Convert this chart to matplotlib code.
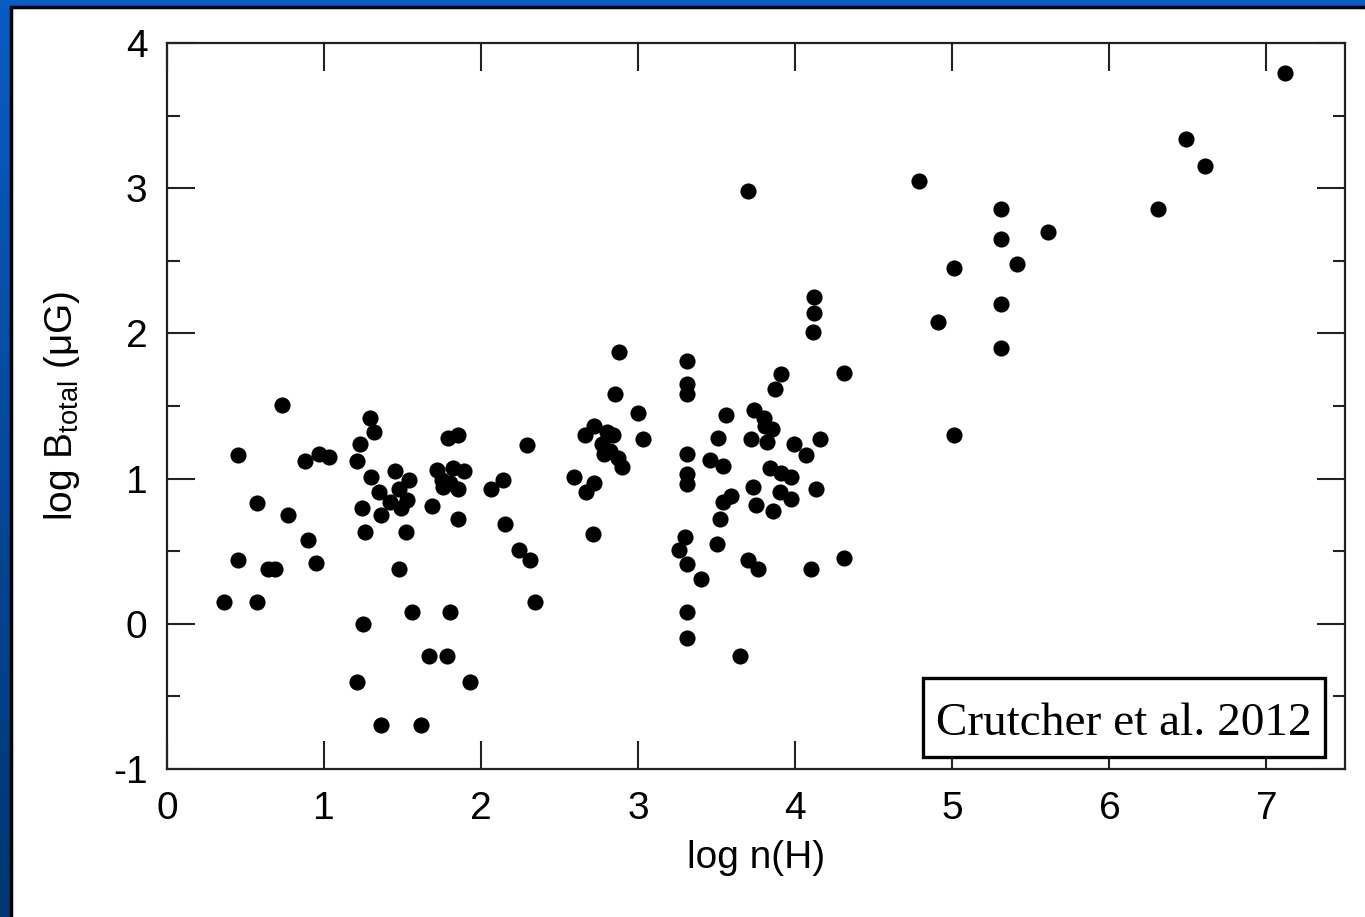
"""
log B_total vs log n(H) -- Zeeman field strengths, after Crutcher et al. 2012
"""

import numpy as np
import matplotlib
matplotlib.use("Agg")
import matplotlib.pyplot as plt
from matplotlib.patches import Rectangle

# values
log_nH = [
    0.36, 0.57, 0.45, 0.64, 0.69, 0.95, 0.57, 0.77, 0.90, 0.45, 0.73, 0.88, 0.97, 1.03,
    1.21, 1.23, 1.29, 1.32,
    1.30, 1.45, 1.54, 1.48, 1.35, 1.53, 1.42, 1.49, 1.24, 1.36, 1.26, 1.52, 1.48,
    1.25, 1.56, 1.67, 1.78, 1.21, 1.36, 1.62, 1.93,
    1.79, 1.85, 1.72, 1.82, 1.89, 1.75, 1.80, 1.85, 1.76, 1.69, 1.85, 1.80,
    2.06, 2.14, 2.15, 2.24, 2.31, 2.34, 2.29,
    2.59, 2.67, 2.71, 2.72, 2.66, 2.72, 2.80, 2.84, 2.77, 2.82, 2.87, 2.90, 2.78,
    2.85, 2.88, 3.00, 3.03,
    3.31, 3.31, 3.31, 3.31, 3.31, 3.31, 3.30, 3.26, 3.31, 3.40, 3.31, 3.31,
    3.51, 3.46, 3.54, 3.56, 3.52, 3.50, 3.54, 3.59,
    3.65, 3.70, 3.76, 3.70,
    3.73, 3.75, 3.86, 3.90, 3.97, 3.84, 3.91, 3.97,
    3.74, 3.80, 3.85, 3.81, 3.72, 3.82, 3.99, 4.07, 4.16, 3.87, 3.91,
    4.13, 4.10, 4.31, 4.31, 4.12, 4.12, 4.11,
    4.79, 4.91, 5.01, 5.01, 5.31, 5.31, 5.31, 5.31, 5.41, 5.61,
    6.31, 6.49, 6.61, 7.12,
]
log_B = [
    0.15, 0.15, 0.44, 0.38, 0.38, 0.42, 0.83, 0.75, 0.58, 1.16, 1.51, 1.12, 1.17, 1.15,
    1.12, 1.24, 1.42, 1.32,
    1.01, 1.05, 0.99, 0.93, 0.91, 0.85, 0.84, 0.80, 0.80, 0.75, 0.63, 0.63, 0.38,
    0.00, 0.08, -0.22, -0.22, -0.40, -0.70, -0.70, -0.40,
    1.28, 1.30, 1.06, 1.07, 1.05, 0.99, 0.97, 0.93, 0.94, 0.81, 0.72, 0.08,
    0.93, 0.99, 0.69, 0.51, 0.44, 0.15, 1.23,
    1.01, 0.91, 0.62, 0.97, 1.30, 1.36, 1.32, 1.30, 1.24, 1.19, 1.14, 1.08, 1.17,
    1.58, 1.87, 1.45, 1.27,
    1.81, 1.65, 1.58, 1.17, 1.03, 0.96, 0.60, 0.51, 0.41, 0.31, 0.08, -0.10,
    1.28, 1.13, 1.09, 1.44, 0.72, 0.55, 0.84, 0.88,
    -0.22, 0.44, 0.38, 2.98,
    0.94, 0.82, 0.78, 0.91, 0.86, 1.07, 1.04, 1.01,
    1.47, 1.42, 1.34, 1.36, 1.27, 1.25, 1.24, 1.16, 1.27, 1.62, 1.72,
    0.93, 0.38, 0.45, 1.73, 2.25, 2.14, 2.01,
    3.05, 2.08, 2.45, 1.30, 2.86, 2.65, 2.20, 1.90, 2.48, 2.70,
    2.86, 3.34, 3.15, 3.79,
]

x_ticks = [0, 1, 2, 3, 4, 5, 6, 7]
y_ticks = [-1, 0, 1, 2, 3, 4]
citation = "Crutcher et al. 2012"

W, H = 1365, 917
fig = plt.figure(figsize=(W / 100, H / 100), dpi=100)

# slide background: blue gradient with a white panel on top
bg = fig.add_axes([0, 0, 1, 1])
grad = np.linspace(0, 1, 256).reshape(-1, 1)
bg.imshow(grad, aspect="auto", extent=[0, 1, 0, 1],
          cmap=matplotlib.colors.LinearSegmentedColormap.from_list(
              "slide", ["#0a5cc2", "#003672"]))
bg.add_patch(Rectangle((11 / W, -0.05), 1.1, 1.05 - 7 / H, facecolor="white",
                       edgecolor="black", linewidth=2.5))
bg.set_xlim(0, 1)
bg.set_ylim(0, 1)
bg.axis("off")

ax = fig.add_axes([167 / W, 1 - 769 / H, (1345 - 167) / W, (769 - 43) / H])
ax.set_facecolor("none")
ax.scatter(log_nH, log_B, s=135, color="black", linewidths=0, zorder=3)

ax.set_xlim(0, 7.5)
ax.set_ylim(-1, 4)
ax.set_xticks(x_ticks)
ax.set_yticks(y_ticks)
ax.set_yticks(np.arange(-0.5, 4, 1.0), minor=True)

tick_font = {"family": "Liberation Sans", "size": 28}
ax.set_xticklabels([str(t) for t in x_ticks], fontdict=tick_font)
ax.set_yticklabels([str(t) for t in y_ticks], fontdict=tick_font)
ax.tick_params(which="both", direction="in", top=True, right=True,
               width=1.5, color="#222222")
ax.tick_params(which="major", length=20)
ax.tick_params(which="minor", length=9)
ax.tick_params(axis="x", pad=16)
ax.tick_params(axis="y", pad=14)
for sp in ax.spines.values():
    sp.set_linewidth(1.6)
    sp.set_color("#222222")

ax.set_xlabel("log n(H)", family="Liberation Sans", fontsize=28, labelpad=9)
ax.set_ylabel("log B$_{\\mathregular{total}}$ (μG)", family="Liberation Sans",
              fontsize=28, labelpad=22)

# citation box
fig.add_artist(Rectangle((923 / W, 1 - 757 / H), 402 / W, 79 / H,
                         transform=fig.transFigure, facecolor="white",
                         edgecolor="black", linewidth=2.4, zorder=5))
fig.text(1124 / W, 1 - 735 / H, citation, family="Liberation Serif",
         fontsize=34, ha="center", va="baseline", zorder=6)

fig.savefig("out.png", dpi=100)
